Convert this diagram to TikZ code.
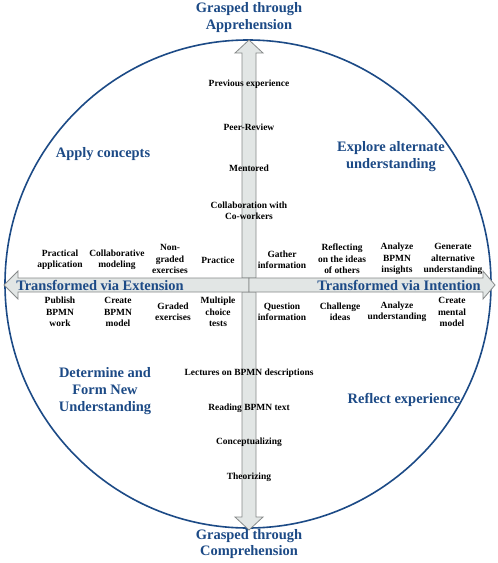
\documentclass[tikz,border=0pt]{standalone}
\usepackage{fontspec}
\setmainfont{Liberation Serif}
\definecolor{kblue}{RGB}{28,74,134}
\definecolor{afill}{RGB}{226,230,229}
\definecolor{aline}{RGB}{135,138,138}
\begin{document}
\begin{tikzpicture}[x=1bp,y=-1bp,
  lbl/.style={font=\fontsize{9.5}{11.5}\selectfont\bfseries, align=center, inner sep=0pt},
  head/.style={font=\fontsize{14.5}{17}\selectfont\bfseries, text=kblue, align=center, inner sep=0pt},
  arr/.style={fill=afill, draw=aline, line width=0.8bp, line join=miter}]
\useasboundingbox (0,0) rectangle (498,563);
\fill[white] (0,0) rectangle (498,563);
\draw[kblue, line width=1.6bp] (248,284) ellipse [x radius=243, y radius=244];
% arrows
\coordinate (c) at (249,285);
\draw[arr] (242,278) -- (242,53) -- (235,53) -- (249,40) -- (263,53) -- (256,53) -- (256,278) -- cycle;
\draw[arr] (242,292) -- (242,517) -- (235,517) -- (249,530) -- (263,517) -- (256,517) -- (256,292) -- cycle;
\draw[arr] (249,278) -- (18,278) -- (18,271) -- (4,285) -- (18,299) -- (18,292) -- (249,292) -- cycle;
\draw[arr] (249,278) -- (483,278) -- (483,271) -- (495,285) -- (483,299) -- (483,292) -- (249,292) -- cycle;
% headings
\node[head] (gta) at (249,17.5) {Grasped through\\Apprehension};
\node[head] (gtc) at (249,544) {Grasped through\\Comprehension};
\node[head] (tve) at (100,285) {Transformed via Extension};
\node[head] (tvi) at (399,285) {Transformed via Intention};
\node[head] (ac) at (103,154) {Apply concepts};
\node[head] (eau) at (391,157) {Explore alternate\\understanding};
\node[head] (dfn) at (105,391.5) {Determine and\\Form New\\Understanding};
\node[head] (re) at (404,400) {Reflect experience};
% vertical labels
\node[lbl] (pe) at (249,84) {Previous experience};
\node[lbl] (pr) at (249,127) {Peer-Review};
\node[lbl] (me) at (249,168) {Mentored};
\node[lbl] (cw) at (249,210.5) {Collaboration with\\Co-workers};
\node[lbl] (lec) at (249,373) {Lectures on BPMN descriptions};
\node[lbl] (rbt) at (249,408) {Reading BPMN text};
\node[lbl] (con) at (249,442) {Conceptualizing};
\node[lbl] (the) at (249,477) {Theorizing};
% left upper
\node[lbl] (pa) at (60,259.5) {Practical\\application};
\node[lbl] (cm) at (117,259.5) {Collaborative\\modeling};
\node[lbl] (nge) at (170,259) {Non-\\graded\\exercises};
\node[lbl] (prc) at (218,260) {Practice};
% left lower
\node[lbl] (pbw) at (60,312) {Publish\\BPMN\\work};
\node[lbl] (cbm) at (118,312) {Create\\BPMN\\model};
\node[lbl] (ge) at (173,311.5) {Graded\\exercises};
\node[lbl] (mct) at (218,312) {Multiple\\choice\\tests};
% right upper
\node[lbl] (gi) at (282,259.5) {Gather\\information};
\node[lbl] (rio) at (342,259) {Reflecting\\on the ideas\\of others};
\node[lbl] (abi) at (397,259) {Analyze\\BPMN\\insights};
\node[lbl] (gau) at (453,259) {Generate\\alternative\\understanding};
% right lower
\node[lbl] (qi) at (282,311.5) {Question\\information};
\node[lbl] (ci) at (340,311.5) {Challenge\\ideas};
\node[lbl] (au) at (397,311.5) {Analyze\\understanding};
\node[lbl] (cmm) at (452,312) {Create\\mental\\model};
\end{tikzpicture}
\end{document}
